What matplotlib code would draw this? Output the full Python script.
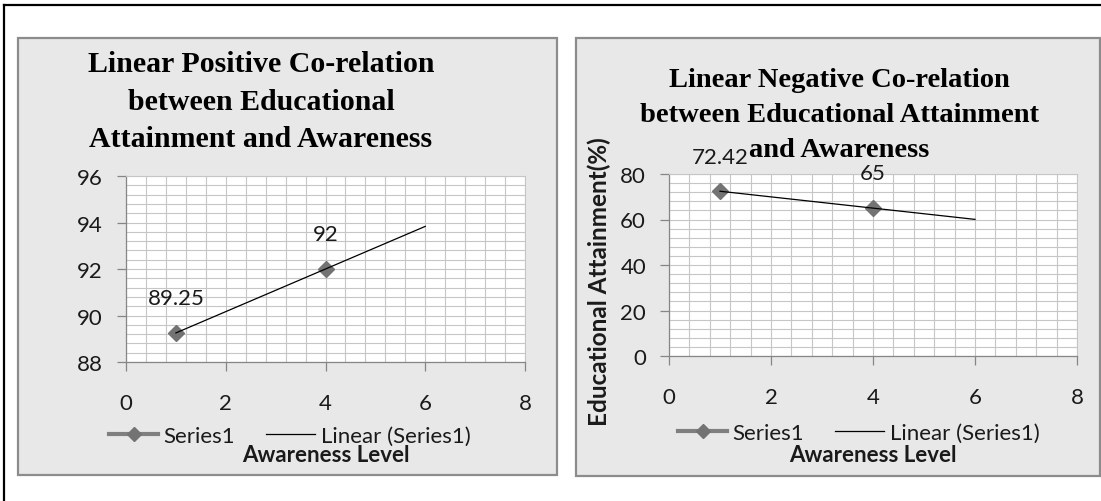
import numpy as np
import matplotlib.pyplot as plt
from matplotlib.lines import Line2D
from matplotlib.patches import Rectangle
from matplotlib.ticker import MultipleLocator

W, H = 1101, 502

# awareness level vs educational attainment
pos_x = [1, 4]
pos_y = [89.25, 92]
neg_x = [1, 4]
neg_y = [72.42, 65]
trend_x = [1, 6]  # excel trendline, forecast 2 forward

pos_title = ["Linear Positive Co-relation", "between Educational", "Attainment and Awareness"]
neg_title = ["Linear Negative Co-relation", "between Educational Attainment", "and Awareness"]
x_ticks = [0, 2, 4, 6, 8]
pos_yticks = [88, 90, 92, 94, 96]
neg_yticks = [0, 20, 40, 60, 80]

BOX = "#e8e8e8"
EDGE = "#8c8c8c"
GRID = "#c6c6c6"
AXIS = "#868686"
MARK = "#737373"
TXT = "#1a1a1a"

plt.rcParams['font.family'] = ['Lato', 'DejaVu Sans']


def fxy(px, py):
    return px / W, 1 - py / H


def add_ax(fig, x0, y0, x1, y1):
    ax = fig.add_axes([x0 / W, 1 - y1 / H, (x1 - x0) / W, (y1 - y0) / H])
    ax.set_zorder(2)
    return ax


def draw(ax, xs, ys, yticks, yminor):
    ax.set_axisbelow(True)
    ax.set_xlim(x_ticks[0], x_ticks[-1])
    ax.set_ylim(yticks[0], yticks[-1])
    ax.set_xticks(x_ticks)
    ax.set_yticks(yticks)
    ax.xaxis.set_minor_locator(MultipleLocator(0.4))
    ax.yaxis.set_minor_locator(MultipleLocator(yminor))
    ax.grid(which='both', color=GRID, lw=0.8)
    for s in ['top', 'right']:
        ax.spines[s].set_color(GRID)
        ax.spines[s].set_linewidth(0.8)
    for s in ['left', 'bottom']:
        ax.spines[s].set_color(AXIS)
        ax.spines[s].set_linewidth(0.9)
    ax.tick_params(which='major', direction='out', length=6.5, width=0.9,
                   color=AXIS, labelsize=16, labelcolor=TXT)
    ax.tick_params(which='minor', length=0)
    ax.tick_params(axis='x', pad=16)
    ax.tick_params(axis='y', pad=10)

    # linear trendline through the series
    k, b = np.polyfit(xs, ys, 1)
    ax.plot(trend_x, np.polyval([k, b], trend_x), color='black', lw=0.9, zorder=4)
    ax.plot(xs, ys, ls='none', marker='D', ms=7.8, color=MARK, zorder=3)
    for x, y in zip(xs, ys):
        ax.annotate(f"{y:g}", (x, y), xytext=(0, 25), textcoords='offset points',
                    ha='center', va='center', fontsize=16, color=TXT,
                    annotation_clip=False)


fig = plt.figure(figsize=(W / 100, H / 100), dpi=100)

# panel backgrounds + outer frame
fig.patches.append(Rectangle(fxy(18, 476), 539 / W, 437 / H, transform=fig.transFigure,
                             fc=BOX, ec=EDGE, lw=1.6, zorder=-2))
fig.patches.append(Rectangle(fxy(576, 477), 524 / W, 438 / H, transform=fig.transFigure,
                             fc=BOX, ec=EDGE, lw=1.6, zorder=-2))
fig.lines.append(Line2D([4 / W, 4 / W], [0, 1 - 6 / H], transform=fig.transFigure, color='black', lw=1.6))
fig.lines.append(Line2D([4 / W, 1], [1 - 6 / H, 1 - 6 / H], transform=fig.transFigure, color='black', lw=1.6))

ax1 = add_ax(fig, 126, 177, 525, 363)
draw(ax1, pos_x, pos_y, pos_yticks, 0.4)
ax1.set_xlabel("Awareness Level", fontsize=16, fontweight='bold', color=TXT, va='baseline')
ax1.xaxis.set_label_coords(0.5, (363 - 462) / 186)

ax2 = add_ax(fig, 669, 175, 1077, 357)
draw(ax2, neg_x, neg_y, neg_yticks, 4)
ax2.set_xlabel("Awareness Level", fontsize=16, fontweight='bold', color=TXT, va='baseline')
ax2.xaxis.set_label_coords(0.5, (357 - 462) / 182)
ax2.set_ylabel("Educational Attainment(%)", fontsize=17.5, fontweight='bold', color=TXT)
ax2.yaxis.set_label_coords((611 - 669) / 408, (357 - 282) / 182)

for i, line in enumerate(pos_title):
    fig.text(*fxy(261, 72 + 37.5 * i), line, ha='center', va='baseline',
             family='Liberation Serif', fontweight='bold', fontsize=21.5, color='black')
for i, line in enumerate(neg_title):
    fig.text(*fxy(839, 87 + 35 * i), line, ha='center', va='baseline',
             family='Liberation Serif', fontweight='bold', fontsize=20.5, color='black')

handles = [Line2D([], [], color='#7f7f7f', lw=3, marker='D', ms=7, mfc=MARK, mec=MARK),
           Line2D([], [], color='black', lw=0.9)]
names = ["Series1", "Linear (Series1)"]
for cx, cy in [(290, 437), (859, 434)]:
    fig.legend(handles, names, loc='center', bbox_to_anchor=fxy(cx, cy), ncol=2, frameon=False,
               fontsize=16, handlelength=2.2, handletextpad=0.25, columnspacing=1.4,
               labelcolor=TXT)

fig.savefig("out.png", dpi=100)
